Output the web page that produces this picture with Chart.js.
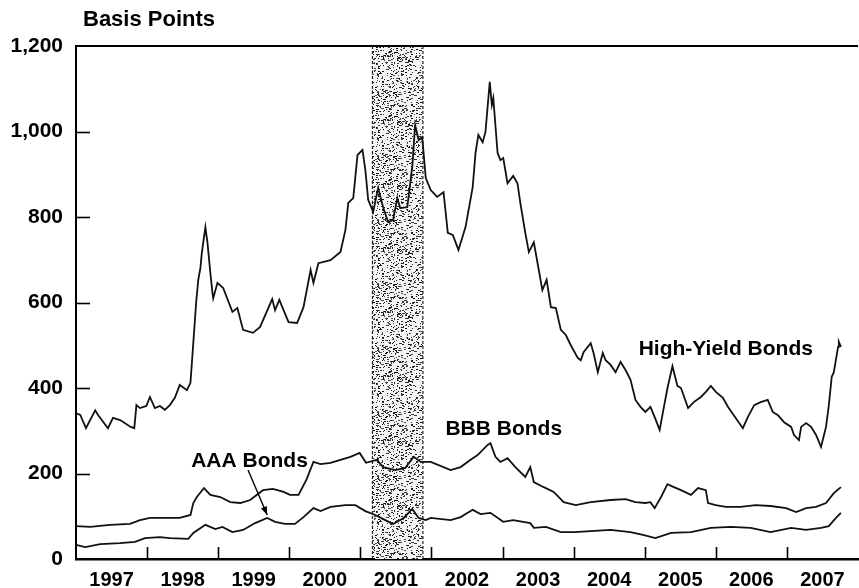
<!DOCTYPE html>
<html>
<head>
<meta charset="utf-8">
<script src="https://cdn.jsdelivr.net/npm/chart.js@4.4.1/dist/chart.umd.min.js"></script>
<style>
  html, body { margin: 0; padding: 0; background: #fff; }
  canvas { display: block; }
</style>
</head>
<body>
<canvas id="spreads" width="859" height="588"></canvas>
<script>
// Corporate bond spreads, basis points
const yearLabels = ["1997", "1998", "1999", "2000", "2001", "2002", "2003", "2004", "2005", "2006", "2007"];
const yTickValues = [0, 200, 400, 600, 800, 1000, 1200];

// recession band (Mar 2001 - Nov 2001)
const recessionStart = 2001.17;
const recessionEnd = 2001.88;

const hyDates = [
  1997.00, 1997.06, 1997.14, 1997.27, 1997.31, 1997.45, 1997.52, 1997.62, 1997.77, 1997.82,
  1997.85, 1997.90, 1997.99, 1998.04, 1998.11, 1998.18, 1998.25, 1998.32, 1998.39, 1998.46,
  1998.56, 1998.61, 1998.65, 1998.69, 1998.72, 1998.75, 1998.77, 1998.82, 1998.85, 1998.89,
  1998.92, 1998.93, 1998.99, 1999.07, 1999.20, 1999.27, 1999.35, 1999.49, 1999.59, 1999.76,
  1999.80, 1999.86, 1999.99, 2000.11, 2000.20, 2000.30, 2000.34, 2000.41, 2000.58, 2000.72,
  2000.79, 2000.83, 2000.90, 2000.96, 2001.03, 2001.07, 2001.11, 2001.18, 2001.25, 2001.32,
  2001.39, 2001.46, 2001.52, 2001.56, 2001.66, 2001.73, 2001.77, 2001.82, 2001.87, 2001.92,
  2001.99, 2002.08, 2002.17, 2002.23, 2002.30, 2002.38, 2002.48, 2002.58, 2002.62, 2002.66,
  2002.72, 2002.76, 2002.82, 2002.85, 2002.87, 2002.93, 2002.97, 2003.01, 2003.07, 2003.15,
  2003.21, 2003.25, 2003.32, 2003.37, 2003.44, 2003.51, 2003.56, 2003.62, 2003.68, 2003.75,
  2003.82, 2003.89, 2003.96, 2004.06, 2004.10, 2004.14, 2004.24, 2004.28, 2004.34, 2004.41,
  2004.45, 2004.52, 2004.59, 2004.66, 2004.73, 2004.80, 2004.87, 2004.94, 2005.01, 2005.08,
  2005.14, 2005.21, 2005.27, 2005.32, 2005.39, 2005.46, 2005.51, 2005.61, 2005.69, 2005.79,
  2005.86, 2005.93, 2006.00, 2006.10, 2006.17, 2006.25, 2006.38, 2006.45, 2006.54, 2006.63,
  2006.73, 2006.80, 2006.87, 2006.96, 2007.06, 2007.10, 2007.17, 2007.20, 2007.27, 2007.34,
  2007.41, 2007.48, 2007.55, 2007.59, 2007.63, 2007.66, 2007.72, 2007.73, 2007.76
];
const hyValues = [
  341, 337, 306, 348, 337, 306, 330, 325, 309, 306,
  360, 353, 358, 379, 353, 358, 349, 360, 377, 407,
  395, 412, 505, 600, 653, 681, 716, 776, 739, 669,
  622, 610, 646, 634, 578, 587, 536, 529, 543, 608,
  582, 606, 554, 552, 589, 676, 646, 692, 699, 718,
  770, 833, 844, 945, 957, 910, 840, 812, 868, 823,
  788, 793, 844, 821, 823, 917, 1015, 980, 987, 891,
  863, 847, 858, 763, 758, 723, 777, 870, 950, 992,
  975, 999, 1116, 1062, 1078, 950, 933, 938, 879, 896,
  879, 833, 763, 718, 741, 676, 629, 653, 589, 587,
  536, 524, 500, 470, 465, 484, 505, 482, 437, 482,
  465, 454, 437, 461, 442, 419, 372, 356, 344, 356,
  332, 302, 356, 400, 451, 405, 400, 353, 367, 379,
  391, 405, 391, 377, 356, 337, 306, 332, 360, 367,
  372, 344, 337, 320, 309, 290, 278, 309, 318, 309,
  290, 262, 309, 360, 426, 437, 496, 508, 496
];

const bbbDates = [
  1997.00, 1997.20, 1997.48, 1997.76, 1997.90, 1998.04, 1998.18, 1998.46, 1998.61, 1998.65,
  1998.70, 1998.80, 1998.89, 1999.03, 1999.17, 1999.31, 1999.45, 1999.63, 1999.77, 1999.92,
  2000.01, 2000.13, 2000.24, 2000.34, 2000.44, 2000.58, 2000.72, 2000.86, 2000.99, 2001.08,
  2001.23, 2001.32, 2001.49, 2001.63, 2001.75, 2001.85, 2001.99, 2002.27, 2002.41, 2002.55,
  2002.65, 2002.79, 2002.83, 2002.90, 2002.97, 2003.07, 2003.18, 2003.32, 2003.39, 2003.44,
  2003.58, 2003.72, 2003.86, 2004.03, 2004.24, 2004.52, 2004.73, 2004.87, 2005.01, 2005.08,
  2005.14, 2005.23, 2005.32, 2005.41, 2005.51, 2005.65, 2005.75, 2005.86, 2005.89, 2006.00,
  2006.14, 2006.35, 2006.56, 2006.77, 2006.99, 2007.13, 2007.27, 2007.41, 2007.55, 2007.66,
  2007.76
];
const bbbValues = [
  77, 75, 80, 82, 91, 96, 96, 96, 103, 131,
  145, 166, 150, 145, 133, 131, 138, 161, 164, 157,
  150, 150, 185, 227, 222, 225, 232, 239, 248, 225,
  232, 215, 208, 213, 239, 227, 227, 208, 215, 232,
  243, 267, 271, 239, 227, 236, 215, 192, 215, 180,
  168, 157, 133, 126, 133, 138, 140, 133, 131, 133,
  119, 145, 175, 168, 161, 150, 166, 161, 131, 126,
  122, 122, 126, 124, 119, 110, 119, 122, 131, 154,
  168
];

const aaaDates = [
  1997.00, 1997.13, 1997.34, 1997.62, 1997.83, 1997.97, 1998.18, 1998.32, 1998.58, 1998.65,
  1998.82, 1998.96, 1999.06, 1999.20, 1999.35, 1999.52, 1999.69, 1999.80, 1999.94, 2000.08,
  2000.20, 2000.34, 2000.44, 2000.58, 2000.79, 2000.93, 2001.07, 2001.21, 2001.35, 2001.46,
  2001.61, 2001.73, 2001.82, 2001.92, 2001.99, 2002.27, 2002.41, 2002.58, 2002.69, 2002.83,
  2003.01, 2003.15, 2003.39, 2003.44, 2003.61, 2003.82, 2004.01, 2004.24, 2004.52, 2004.80,
  2004.99, 2005.15, 2005.37, 2005.65, 2005.93, 2006.21, 2006.49, 2006.77, 2007.06, 2007.27,
  2007.48, 2007.59, 2007.69, 2007.76
];
const aaaValues = [
  33, 28, 35, 37, 40, 49, 51, 49, 47, 61,
  80, 70, 75, 63, 68, 84, 96, 87, 82, 82,
  98, 119, 112, 122, 126, 126, 112, 103, 91, 82,
  96, 117, 96, 91, 96, 91, 98, 115, 105, 108,
  87, 91, 84, 73, 75, 63, 63, 65, 68, 63,
  56, 49, 61, 63, 73, 75, 73, 63, 73, 68,
  73, 77, 96, 108
];

const textFont = '"Liberation Sans", Arial, Helvetica, sans-serif';

function toPoints(dates, values) {
  return dates.map((d, i) => ({ x: d, y: values[i] }));
}

// fixed speckle texture for the recession band (black flecks on white)
function makeSpecklePattern(ctx) {
  const tile = document.createElement("canvas");
  tile.width = 64;
  tile.height = 64;
  const t = tile.getContext("2d");
  t.fillStyle = "#f4f4f4";
  t.fillRect(0, 0, 64, 64);
  let seed = 987;
  const next = () => {
    seed = (seed * 1103515245 + 12345) % 2147483648;
    return seed / 2147483648;
  };
  for (let i = 0; i < 700; i++) {
    const px = Math.floor(next() * 64);
    const py = Math.floor(next() * 64);
    const w = next() < 0.4 ? 2 : 1;
    const g = Math.floor(next() * 90);
    t.fillStyle = `rgb(${g},${g},${g})`;
    t.fillRect(px, py, w, 1);
  }
  return ctx.createPattern(tile, "repeat");
}

const recessionBand = {
  id: "recessionBand",
  beforeDatasetsDraw(chart) {
    const { ctx, chartArea, scales } = chart;
    const x0 = scales.x.getPixelForValue(recessionStart);
    const x1 = scales.x.getPixelForValue(recessionEnd);
    ctx.save();
    ctx.fillStyle = makeSpecklePattern(ctx);
    ctx.fillRect(x0, chartArea.top, x1 - x0, chartArea.bottom - chartArea.top);
    ctx.strokeStyle = "#222";
    ctx.lineWidth = 1.2;
    ctx.setLineDash([3, 2]);
    [x0, x1].forEach((x) => {
      ctx.beginPath();
      ctx.moveTo(x, chartArea.top);
      ctx.lineTo(x, chartArea.bottom);
      ctx.stroke();
    });
    ctx.restore();
  }
};

const frameAndNotes = {
  id: "frameAndNotes",
  afterDraw(chart) {
    const { ctx, chartArea, scales } = chart;
    const xs = scales.x, ys = scales.y;
    ctx.save();
    ctx.strokeStyle = "#000";

    // top frame line
    ctx.lineWidth = 2;
    ctx.beginPath();
    ctx.moveTo(chartArea.left, chartArea.top);
    ctx.lineTo(chartArea.right, chartArea.top);
    ctx.stroke();

    // year tick marks pointing up from the axis
    ctx.lineWidth = 1.6;
    for (let yr = 1998; yr <= 2007; yr++) {
      const x = Math.round(xs.getPixelForValue(yr)) + 0.5;
      ctx.beginPath();
      ctx.moveTo(x, chartArea.bottom);
      ctx.lineTo(x, chartArea.bottom - 12);
      ctx.stroke();
    }
    // value tick marks pointing right from the y axis
    yTickValues.slice(1, -1).forEach((v) => {
      const y = Math.round(ys.getPixelForValue(v)) + 0.5;
      ctx.beginPath();
      ctx.moveTo(chartArea.left, y);
      ctx.lineTo(chartArea.left + 14, y);
      ctx.stroke();
    });

    // labels
    ctx.fillStyle = "#000";
    ctx.textAlign = "left";
    ctx.textBaseline = "alphabetic";
    ctx.font = `bold 22px ${textFont}`;
    ctx.fillText("Basis Points", 83, 26);

    ctx.font = `bold 21px ${textFont}`;
    ctx.fillText("High-Yield Bonds", xs.getPixelForValue(2004.915), ys.getPixelForValue(477));
    ctx.fillText("BBB Bonds", xs.getPixelForValue(2002.197), ys.getPixelForValue(290));
    ctx.fillText("AAA Bonds", xs.getPixelForValue(1998.62), ys.getPixelForValue(215));

    // arrow from the AAA label to its line
    const ax0 = xs.getPixelForValue(1999.42), ay0 = ys.getPixelForValue(208);
    const ax1 = xs.getPixelForValue(1999.69), ay1 = ys.getPixelForValue(103);
    ctx.lineWidth = 1.4;
    ctx.beginPath();
    ctx.moveTo(ax0, ay0);
    ctx.lineTo(ax1, ay1);
    ctx.stroke();
    const ang = Math.atan2(ay1 - ay0, ax1 - ax0);
    ctx.beginPath();
    ctx.moveTo(ax1, ay1);
    ctx.lineTo(ax1 - 9 * Math.cos(ang - 0.35), ay1 - 9 * Math.sin(ang - 0.35));
    ctx.lineTo(ax1 - 9 * Math.cos(ang + 0.35), ay1 - 9 * Math.sin(ang + 0.35));
    ctx.closePath();
    ctx.fill();

    ctx.restore();
  }
};

const lineStyle = {
  borderColor: "#111",
  borderWidth: 1.8,
  pointRadius: 0,
  tension: 0,
  fill: false
};

new Chart(document.getElementById("spreads"), {
  type: "line",
  data: {
    datasets: [
      { label: "High-Yield Bonds", data: toPoints(hyDates, hyValues), ...lineStyle },
      { label: "BBB Bonds", data: toPoints(bbbDates, bbbValues), ...lineStyle },
      { label: "AAA Bonds", data: toPoints(aaaDates, aaaValues), ...lineStyle }
    ]
  },
  options: {
    responsive: false,
    animation: false,
    layout: { padding: { top: 46, right: 1, left: 0, bottom: 0 } },
    plugins: {
      legend: { display: false },
      tooltip: { enabled: false }
    },
    scales: {
      x: {
        type: "linear",
        min: 1997,
        max: 2008,
        afterBuildTicks: (scale) => {
          scale.ticks = yearLabels.map((y) => ({ value: Number(y) + 0.5 }));
        },
        afterFit: (scale) => { scale.height = 29; },
        ticks: {
          autoSkip: false,
          maxRotation: 0,
          padding: 9,
          color: "#000",
          font: { family: textFont, size: 20, weight: "bold" },
          callback: (v) => String(Math.floor(v))
        },
        grid: { display: false, drawTicks: false },
        border: { display: true, color: "#000", width: 2.5 }
      },
      y: {
        min: 0,
        max: 1200,
        afterBuildTicks: (scale) => {
          scale.ticks = yTickValues.map((v) => ({ value: v }));
        },
        afterFit: (scale) => { scale.width = 76; },
        ticks: {
          padding: 13,
          color: "#000",
          font: { family: textFont, size: 21, weight: "bold" },
          callback: (v) => v.toLocaleString("en-US")
        },
        grid: { display: false, drawTicks: false },
        border: { display: true, color: "#000", width: 2 }
      }
    }
  },
  plugins: [recessionBand, frameAndNotes]
});
</script>
</body>
</html>
